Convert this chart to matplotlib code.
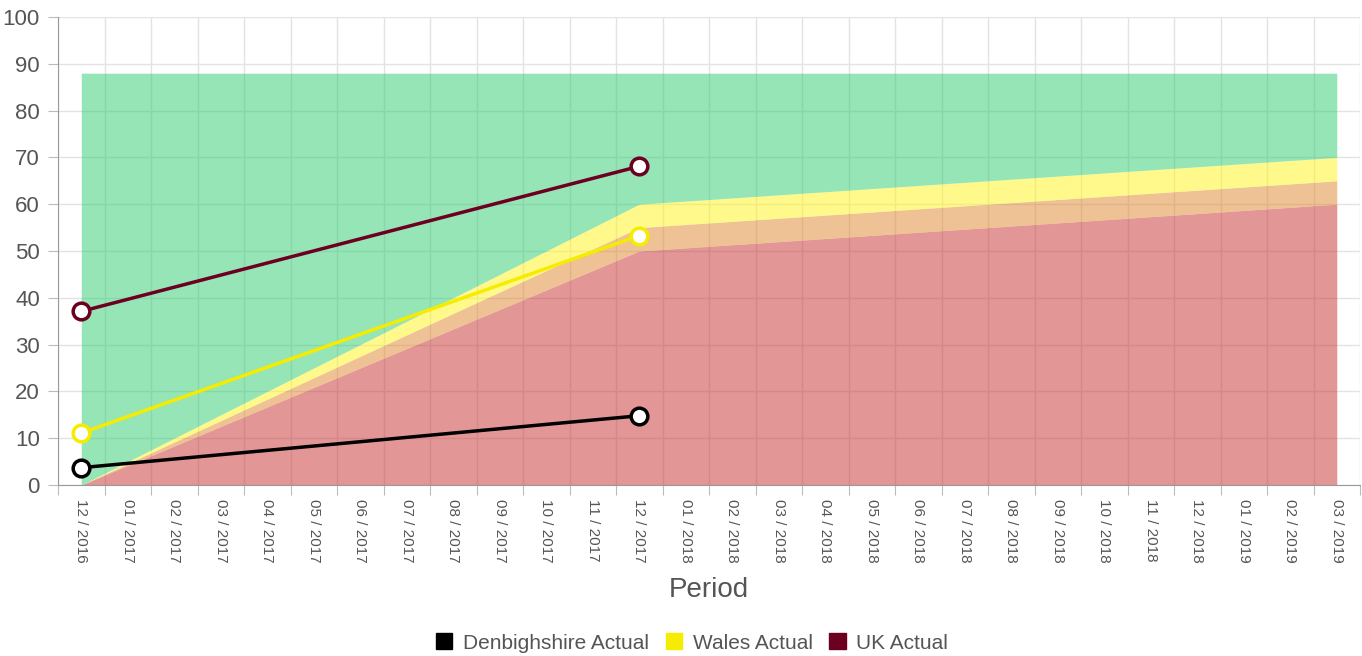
import matplotlib.pyplot as plt
from matplotlib.patches import Patch

plt.rcParams['font.family'] = ['Liberation Sans', 'DejaVu Sans']

# category labels (months)
periods = ['12 / 2016', '01 / 2017', '02 / 2017', '03 / 2017', '04 / 2017', '05 / 2017',
           '06 / 2017', '07 / 2017', '08 / 2017', '09 / 2017', '10 / 2017', '11 / 2017',
           '12 / 2017', '01 / 2018', '02 / 2018', '03 / 2018', '04 / 2018', '05 / 2018',
           '06 / 2018', '07 / 2018', '08 / 2018', '09 / 2018', '10 / 2018', '11 / 2018',
           '12 / 2018', '01 / 2019', '02 / 2019', '03 / 2019']

# target bands (positions in periods where values are known)
band_idx = [0, 12, 27]
red_band = [0, 50, 60]
orange_band = [0, 55, 65]
yellow_band = [0, 60, 70]
green_band = [88, 88, 88]

# actual values
actual_idx = [0, 12]
denbighshire = [3.7, 14.8]
wales = [11.1, 53.3]
uk = [37.1, 68.1]

fig = plt.figure(figsize=(13.62, 6.56), dpi=100)
ax = fig.add_axes([58 / 1362, 171 / 656, 1302 / 1362, 468 / 656])

# bands
ax.fill_between(band_idx, 0, red_band, color=(0.79, 0.18, 0.18), alpha=0.5, lw=0, zorder=2)
ax.fill_between(band_idx, red_band, orange_band, color=(0.88, 0.53, 0.18), alpha=0.5, lw=0, zorder=2)
ax.fill_between(band_idx, orange_band, yellow_band, color=(1.0, 0.96, 0.1), alpha=0.5, lw=0, zorder=2)
ax.fill_between(band_idx, yellow_band, green_band, color=(0.18, 0.8, 0.44), alpha=0.5, lw=0, zorder=2)

# lines
for vals, col in [(denbighshire, '#000000'), (wales, '#f5ec00'), (uk, '#6b0020')]:
    ax.plot(actual_idx, vals, color=col, lw=2.5, marker='o', markersize=12,
            markerfacecolor='white', markeredgecolor=col, markeredgewidth=2.5, zorder=4)

ax.set_xlim(-0.5, len(periods) - 0.5)
ax.set_ylim(0, 100)

# grid at category boundaries, labels at centers
ax.set_xticks([i - 0.5 for i in range(len(periods) + 1)])
ax.set_xticklabels([])
ax.set_xticks(range(len(periods)), minor=True)
ax.set_xticklabels(periods, minor=True, rotation=-90, fontsize=11, color='#555555')
ax.tick_params(axis='x', which='minor', length=0, pad=10)
ax.tick_params(axis='x', which='major', length=7, color='#bbbbbb')
ax.set_yticks(range(0, 101, 10))
ax.tick_params(axis='y', labelsize=16, labelcolor='#555555', length=7, color='#bbbbbb', pad=6)
ax.grid(True, which='major', color='#e3e3e3', lw=1, zorder=0)
ax.set_axisbelow(True)

for s in ['top', 'right']:
    ax.spines[s].set_visible(False)
ax.spines['left'].set_color('#999999')
ax.spines['bottom'].set_color('#999999')

fig.text(709 / 1362, 1 - 590 / 656, 'Period', ha='center', va='center', fontsize=20, color='#555555')

handles = [Patch(facecolor='#000000', edgecolor='#000000'),
           Patch(facecolor='#f5ec00', edgecolor='#f5ec00'),
           Patch(facecolor='#6b0020', edgecolor='#6b0020')]
fig.legend(handles, ['Denbighshire Actual', 'Wales Actual', 'UK Actual'],
           loc='center', bbox_to_anchor=(692 / 1362, 1 - 643 / 656), ncol=3, frameon=False,
           fontsize=15, handlelength=0.8, handleheight=0.8, handletextpad=0.5, columnspacing=0.8,
           labelcolor='#555555')

fig.savefig('out.png', dpi=100)
